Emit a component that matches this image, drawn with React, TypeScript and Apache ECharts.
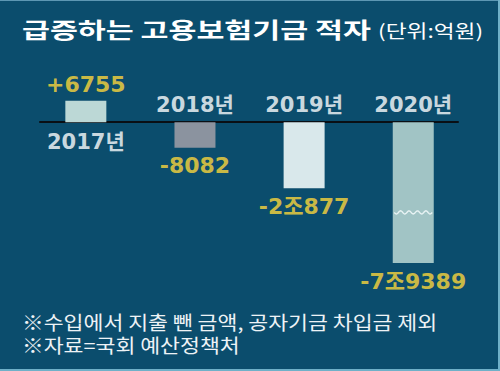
import React, { useEffect, useRef } from 'react';
import * as echarts from 'echarts';

const categories = ['2017년', '2018년', '2019년', '2020년'];
const values = [6755, -8082, -20877, -79389];
const valueLabels = ['+6755', '-8082', '-2조877', '-7조9389'];
const barColors = ['#bcd8d6', '#8b939f', '#d9e8eb', '#a1c4c5'];
const axisBreak = { start: -63400, end: -28500 };
const titleText = '급증하는 고용보험기금 적자';
const unitText = '(단위:억원)';
const notes = ['※수입에서 지출 뺀 금액, 공자기금 차입금 제외', '※자료=국회 예산정책처'];

const BG = '#0b4d6d';
const YELLOW = '#ffd83a';
const NUM_FONT = "'DejaVu Sans', 'Noto Sans CJK KR', sans-serif";
const KR_FONT = "'Noto Sans CJK KR', sans-serif";
const BAR_W = 41;

export default function App() {
  const ref = useRef<HTMLDivElement>(null);

  useEffect(() => {
    document.body.style.margin = '0';
    if (!ref.current) return;
    const chart = echarts.init(ref.current, undefined, { renderer: 'svg' });

    const waveData = values
      .map((v, i) => (v < axisBreak.start ? [i, axisBreak.end] : null))
      .filter((d) => d !== null);

    chart.setOption({
      animation: false,
      backgroundColor: BG,
      grid: { left: 40, right: 42, top: 90.5, bottom: 106 },
      xAxis: {
        type: 'value',
        min: -0.42,
        max: 3.41,
        axisLine: { show: true, onZero: true, lineStyle: { color: '#0a0f14', width: 2 } },
        axisTick: { show: false },
        axisLabel: { show: false },
        splitLine: { show: false },
      },
      yAxis: {
        type: 'value',
        min: -80000,
        max: 10000,
        breaks: [{ start: axisBreak.start, end: axisBreak.end, gap: 0 }],
        breakArea: { show: false, expandOnClick: false },
        axisLine: { show: false },
        axisTick: { show: false },
        axisLabel: { show: false },
        splitLine: { show: false },
      },
      series: [
        {
          type: 'bar',
          barWidth: BAR_W,
          data: values.map((v, i) => ({ value: [i, v], itemStyle: { color: barColors[i] } })),
          z: 2,
        },
        {
          type: 'custom',
          z: 5,
          data: waveData,
          renderItem: (params: any, api: any) => {
            const p = api.coord([api.value(0), api.value(1)]);
            const half = 19;
            const pts: number[][] = [];
            const n = 48;
            for (let k = 0; k <= n; k++) {
              const t = k / n;
              pts.push([p[0] - half + t * half * 2, p[1] + 1.6 * Math.sin(t * Math.PI * 2 * 4.5)]);
            }
            return {
              type: 'polyline',
              shape: { points: pts },
              style: { stroke: '#e8f3f4', lineWidth: 1.4, fill: null },
            };
          },
        },
        {
          type: 'scatter',
          symbolSize: 0,
          z: 6,
          data: values.map((v, i) => ({
            value: [i, 0],
            label: { position: v >= 0 ? 'bottom' : 'top', distance: v >= 0 ? 9 : 6 },
          })),
          label: {
            show: true,
            formatter: (p: any) => categories[p.dataIndex],
            color: '#ffffff',
            fontFamily: NUM_FONT,
            fontWeight: 'bold',
            fontSize: 21,
            lineHeight: 22,
          },
        },
        {
          type: 'scatter',
          symbolSize: 0,
          z: 6,
          data: values.map((v, i) => ({
            value: [i, v],
            label: { position: v >= 0 ? 'top' : 'bottom', distance: v >= 0 ? 4 : 6 },
          })),
          label: {
            show: true,
            formatter: (p: any) => valueLabels[p.dataIndex],
            color: YELLOW,
            fontFamily: NUM_FONT,
            fontWeight: 'bold',
            fontSize: 22,
            lineHeight: 24,
          },
        },
      ],
      graphic: [
        { type: 'rect', shape: { x: 0, y: 0, width: 500, height: 1 }, style: { fill: '#5d97b3' } },
        { type: 'rect', shape: { x: 498, y: 0, width: 2, height: 371 }, style: { fill: '#6fb0c8' } },
        { type: 'rect', shape: { x: 0, y: 369, width: 500, height: 2 }, style: { fill: '#6fb0c8' } },
        {
          type: 'text',
          x: 22,
          y: 28,
          scaleX: 1.38,
          style: {
            text: titleText,
            fill: '#ffffff',
            fontFamily: KR_FONT,
            fontWeight: 'bold',
            fontSize: 22,
            verticalAlign: 'middle',
            align: 'left',
          },
        },
        {
          type: 'text',
          x: 378,
          y: 30,
          scaleX: 1.26,
          style: {
            text: unitText,
            fill: '#ffffff',
            fontFamily: KR_FONT,
            fontSize: 18,
            verticalAlign: 'middle',
            align: 'left',
          },
        },
        ...notes.map((t, i) => ({
          type: 'text',
          x: 22,
          y: 322 + i * 23,
          scaleX: 1.14,
          style: {
            text: t,
            fill: '#eef3f6',
            fontFamily: KR_FONT,
            fontSize: 19,
            verticalAlign: 'middle',
            align: 'left',
          },
        })),
      ],
    });

    return () => chart.dispose();
  }, []);

  return <div ref={ref} style={{ width: 500, height: 371 }} />;
}
